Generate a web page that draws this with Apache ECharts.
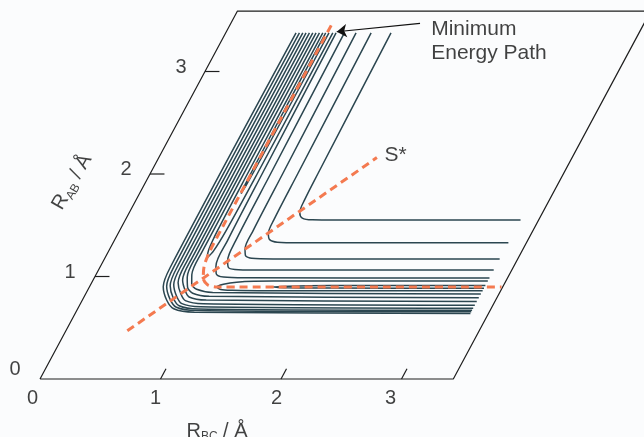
<!DOCTYPE html>
<html><head><meta charset="utf-8">
<script src="https://cdn.jsdelivr.net/npm/echarts@6/dist/echarts.min.js"></script>
<style>html,body{margin:0;padding:0;background:#fbfcfd;}#c{width:644px;height:437px;}</style>
</head><body><div id="c"></div>
<script>
// ---- data (R_BC, R_AB) in Å ----
const xTicks = [1, 2, 3];
const yTicks = [1, 2, 3];
const xTickLabels = ['0', '1', '2', '3'];
const yTickLabels = ['0', '1', '2', '3'];
const frame = [[0, 0], [3.43, 0], [3.43, 3.59], [0, 3.59], [0, 0]];

// repulsive-wall contours (outer corner), outermost first
const wall0 = [[0.584,3.376],[0.584,1.09],[0.612,0.90],[0.699,0.771],[0.797,0.685],[0.984,0.652],[3.28,0.640]];
const wall1 = [[0.612,3.376],[0.612,1.098],[0.638,0.905],[0.721,0.782],[0.812,0.700],[0.993,0.668],[3.28,0.655]];
const wall2 = [[0.640,3.376],[0.640,1.106],[0.665,0.910],[0.743,0.793],[0.828,0.715],[1.002,0.683],[3.28,0.670]];
const wall3 = [[0.667,3.376],[0.667,1.119],[0.690,0.920],[0.765,0.808],[0.842,0.735],[1.010,0.704],[3.28,0.690]];
const wall4 = [[0.695,3.376],[0.695,1.141],[0.717,0.940],[0.787,0.834],[0.857,0.765],[1.019,0.734],[3.28,0.720]];
const wall5 = [[0.723,3.376],[0.723,1.169],[0.743,0.965],[0.809,0.865],[0.872,0.800],[1.028,0.770],[3.28,0.755]];
const wall6 = [[0.750,3.376],[0.750,1.199],[0.769,0.992],[0.815,0.897],[0.885,0.837],[1.036,0.807],[3.28,0.792]];
const wall7 = [[0.778,3.376],[0.778,1.229],[0.795,1.019],[0.835,0.929],[0.900,0.875],[1.048,0.845],[3.28,0.829]];

// L-shaped contours around the plateau (inner corner), outermost first
const ridgeA = [[1.372,3.376],[1.392,2.0],[1.398,1.75],[1.414,1.625],[1.46,1.57],[1.55,1.553],[1.75,1.551],[3.28,1.551]];
const ridgeB = [[1.207,3.376],[1.225,2.0],[1.232,1.55],[1.247,1.42],[1.285,1.36],[1.36,1.335],[1.55,1.330],[3.28,1.330]];
const ridgeC = [[1.082,3.376],[1.10,2.0],[1.108,1.45],[1.122,1.27],[1.155,1.205],[1.22,1.177],[1.40,1.171],[3.28,1.171]];
const ridgeD = [[0.985,3.376],[1.0,2.0],[1.008,1.35],[1.03,1.155],[1.065,1.09],[1.13,1.068],[1.30,1.063],[3.28,1.063]];
const ridgeE = [[0.916,3.376],[0.93,2.0],[0.94,1.35],[0.958,1.10],[0.995,1.025],[1.07,0.994],[1.25,0.987],[3.28,0.986]];

// valley contours below the saddle
const valleyV2 = [[0.806,3.376],[0.808,2.0],[0.812,1.45],[0.825,1.26],[0.847,1.18],[0.87,1.25],[0.884,1.45],[0.889,2.0],[0.889,3.376]];
const valleyH2 = [[3.28,0.956],[1.5,0.955],[1.2,0.945],[1.1,0.925],[1.059,0.898],[1.1,0.874],[1.2,0.866],[1.5,0.862],[3.28,0.862]];
const valleyV1 = [[0.830,3.376],[0.832,2.3],[0.836,1.9],[0.842,1.81],[0.849,1.9],[0.854,2.3],[0.857,3.376]];
const valleyH1 = [[3.28,0.912],[2.0,0.911],[1.65,0.906],[1.524,0.898],[1.65,0.890],[2.0,0.887],[3.28,0.886]];

// dashed paths
const minPath = [[0.842,3.45],[0.838,1.5],[0.840,1.25],[0.860,1.10],[0.907,0.982],[0.970,0.920],[1.06,0.898],[3.42,0.898]];
const sStarPath = [[0.51,0.47],[1.81,2.16]];

// annotations
const arrowFromTo = [[1.570,3.470],[0.916,3.388]];
const mepLabelAt = [1.738, 3.296];
const sStarLabelAt = [1.857, 2.185];
const yTitleAt = [-0.612, 1.922];
const xTitleAt = [1.469, 0];

// ---- skewed frame: screen X = R_BC + K*R_AB ----
const K = 55 / 120.5;
const sk = p => [p[0] + K * p[1], p[1]];
const XMAX = 5.0;

const series = [];
const CONTOUR = '#2b4650';
const DASH = '#f47a50';
const INK = '#111';

series.push({type:'line', data: frame.map(sk), showSymbol:false, clip:false, silent:true,
  lineStyle:{color:'#1e1e1e', width:1.2}});
xTicks.forEach(t => series.push({type:'line', data:[sk([t,0]), sk([t,0.1])], showSymbol:false, clip:false,
  lineStyle:{color:'#1e1e1e', width:1.2}}));
yTicks.forEach(v => series.push({type:'line', data:[sk([0,v]), sk([0.12,v])], showSymbol:false, clip:false,
  lineStyle:{color:'#1e1e1e', width:1.2}}));

[wall0,wall1,wall2,wall3,wall4,wall5,wall6,wall7,ridgeA,ridgeB,ridgeC,ridgeD,ridgeE,valleyV2,valleyH2,valleyV1,valleyH1]
  .forEach(c => series.push({type:'line', data:c.map(sk), smooth:0.3, showSymbol:false, clip:false,
    lineStyle:{color:CONTOUR, width:1.5}}));

series.push({type:'line', data:minPath.map(sk), smooth:0.3, showSymbol:false, clip:false,
  lineStyle:{color:DASH, width:3, type:[8,5]}});
series.push({type:'line', data:sStarPath.map(sk), showSymbol:false, clip:false,
  lineStyle:{color:DASH, width:3, type:[8,5]}});

// arrow
series.push({type:'line', data:[], markLine:{silent:true, symbol:['none','arrow'], symbolSize:10,
  label:{show:false}, lineStyle:{color:'#111', width:1.2, type:'solid'},
  emphasis:{disabled:true},
  data:[[{coord:sk(arrowFromTo[0]), symbol:'none'},{coord:sk(arrowFromTo[1]), symbol:'arrow'}]]}});

const font = {fontFamily:'Liberation Sans, Arial, sans-serif', color:INK};
const txt = (pos, label) => ({type:'scatter', symbolSize:1, itemStyle:{color:'rgba(0,0,0,0)'}, clip:false,
  data:[{value:sk(pos)}], label:Object.assign({show:true}, font, label)});

const xLabelShift = [[-7.5,19],[-5,19],[-4.5,19],[-11,19]];
const yLabelShift = [[-25,-10],[-25,-4],[-24,-5],[-24,-4]];
xTickLabels.forEach((s,i) => series.push(txt([i,0], {position:'inside', offset:xLabelShift[i], fontSize:20, formatter:s})));
yTickLabels.forEach((s,i) => series.push(txt([0,i], {position:'inside', offset:yLabelShift[i], fontSize:20, formatter:s})));

series.push(txt(mepLabelAt, {position:'right', distance:0, fontSize:21, lineHeight:24, align:'left', formatter:'Minimum\nEnergy Path'}));
series.push(txt(sStarLabelAt, {position:'right', distance:0, fontSize:21, formatter:'S*'}));

const rich = {a:{fontSize:20, lineHeight:24, fontFamily:font.fontFamily, color:INK},
  b:{fontSize:12, lineHeight:12, padding:[12,0,0,0], fontFamily:font.fontFamily, color:INK}};
series.push(txt(yTitleAt, {position:'inside', rotate:60, formatter:'{a|R}{b|AB}{a| / Å}', rich}));
series.push(txt(xTitleAt, {position:'inside', offset:[0,52], formatter:'{a|R}{b|BC}{a| / Å}', rich}));

const chart = echarts.init(document.getElementById('c'), null, {renderer:'canvas'});
chart.setOption({
  animation:false,
  backgroundColor:'#fbfcfd',
  grid:{left:40, top:10, width:XMAX*120.5, height:3.6*102.5},
  xAxis:{type:'value', min:0, max:XMAX, show:false},
  yAxis:{type:'value', min:0, max:3.6, show:false},
  series
});
</script></body></html>
